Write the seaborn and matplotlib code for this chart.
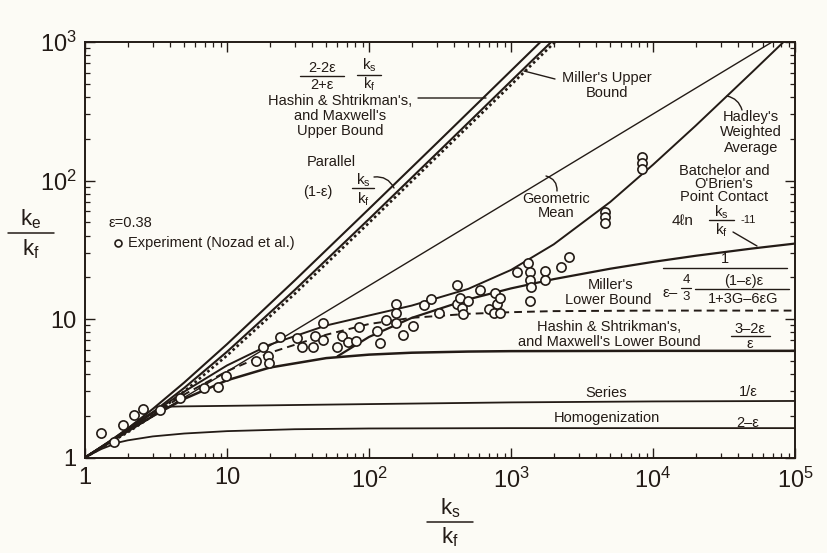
import numpy as np
import pandas as pd
import matplotlib
matplotlib.use("Agg")
import matplotlib.pyplot as plt
import seaborn as sns
from matplotlib.lines import Line2D
from matplotlib.patches import FancyArrowPatch
from matplotlib.ticker import FixedLocator, FixedFormatter, LogLocator, NullFormatter

# ---------------- data ----------------
parallel_x = [1, 1.5, 2, 3, 5, 10, 30, 100, 300, 1000, 1612]
parallel_y = [1, 1.31, 1.62, 2.24, 3.48, 6.58, 19.0, 62.4, 186, 620, 1000]

hs_upper_x = [1, 1.5, 2, 3, 5, 10, 30, 100, 300, 1000, 1920]
hs_upper_y = [1, 1.30, 1.58, 2.12, 3.18, 5.80, 16.2, 52.7, 157, 522, 1000]

miller_upper_x = [1, 1.5, 2, 3, 5, 10, 30, 100, 300, 1000, 2040]
miller_upper_y = [1, 1.28, 1.52, 2.00, 3.00, 5.45, 15.2, 49.5, 148, 490, 1000]

geometric_x = [1, 10, 100, 1000, 10000, 69000]
geometric_y = [1, 4.17, 17.4, 72.4, 302, 1000]

hadley_x = [1, 2, 5, 10, 20, 50, 100, 200, 500, 1000, 2000, 5000, 10000, 20000, 50000, 83000]
hadley_y = [1, 1.58, 2.99, 4.62, 6.53, 8.98, 10.6, 12.5, 16.5, 22.6, 34.6, 70, 130, 249, 607, 1000]

batchelor_x = [60, 100, 200, 500, 1000, 2000, 5000, 10000, 20000, 50000, 100000]
batchelor_y = [5.38, 7.42, 10.19, 13.86, 16.63, 19.4, 23.07, 25.84, 28.61, 32.28, 35.05]

miller_lower_x = [1, 2, 5, 10, 20, 50, 100, 200, 500, 1000, 2000, 10000, 100000]
miller_lower_y = [1, 1.55, 2.85, 4.2, 5.7, 7.7, 9.2, 10.2, 10.9, 11.2, 11.4, 11.5, 11.5]

hs_lower_x = [1, 1.5, 2, 3, 5, 10, 20, 50, 100, 200, 500, 1000, 10000, 100000]
hs_lower_y = [1, 1.29, 1.55, 1.99, 2.65, 3.61, 4.46, 5.22, 5.53, 5.71, 5.82, 5.86, 5.89, 5.89]

series_x = [1, 1.5, 2, 2.5, 3, 3.4, 4, 5, 10, 100, 1000, 10000, 100000]
series_y = [1, 1.32, 1.62, 1.9, 2.12, 2.3, 2.33, 2.34, 2.36, 2.43, 2.5, 2.54, 2.56]

homog_x = [1, 1.3, 1.7, 2, 3, 5, 10, 30, 100, 1000, 100000]
homog_y = [1, 1.15, 1.28, 1.33, 1.42, 1.49, 1.55, 1.60, 1.62, 1.63, 1.63]

exp_x = [1.29, 1.61, 1.85, 2.21, 2.56, 3.37, 4.64, 6.89, 8.64, 9.79,
         16.1, 17.9, 19.4, 19.9, 23.7, 31.0, 33.7, 40.3, 41.5, 47.4,
         47.4, 59.5, 64.2, 70.6, 81.4, 85.3, 114, 119, 132, 154,
         154, 154, 173, 203, 244, 275, 310, 415, 415, 438,
         452, 500, 461, 605, 703, 768, 793, 837, 765, 837,
         1096, 1324, 1361, 1361, 1384, 1361, 1744, 1744, 2250, 2560,
         4590, 4590, 4590, 8410, 8410, 8410]
exp_y = [1.50, 1.30, 1.73, 2.02, 2.23, 2.19, 2.68, 3.15, 3.21, 3.88,
         5.00, 6.31, 5.38, 4.81, 7.45, 7.26, 6.31, 6.31, 7.56, 9.36,
         7.05, 6.26, 7.50, 6.86, 6.96, 8.75, 8.22, 6.71, 9.84, 12.8,
         11.0, 9.31, 7.66, 8.86, 12.7, 14.0, 11.0, 17.6, 12.9, 14.1,
         12.0, 13.4, 10.8, 16.1, 11.8, 15.4, 12.8, 14.1, 11.0, 11.1,
         22.0, 25.2, 22.0, 19.1, 16.9, 13.6, 22.2, 19.1, 23.6, 27.9,
         59.5, 54.2, 49.6, 148.6, 134.5, 121.7]

x_ticks = [1, 10, 100, 1000, 10000, 100000]
x_tick_labels = ["1", "10", "10$^{2}$", "10$^{3}$", "10$^{4}$", "10$^{5}$"]
y_ticks = [1, 10, 100, 1000]
y_tick_labels = ["1", "10", "10$^{2}$", "10$^{3}$"]

# ---------------- style ----------------
INK = "#231b16"
BG = "#fcfbf5"
sns.set_theme(style="ticks")
plt.rcParams["font.family"] = ["Liberation Sans", "DejaVu Sans"]
plt.rcParams["mathtext.default"] = "regular"

W, H = 827, 553
fig = plt.figure(figsize=(W / 100, H / 100), dpi=100, facecolor=BG)
ax = fig.add_axes([85 / W, 1 - 457.5 / H, (795 - 85) / W, (457.5 - 42) / H])
ax.set_facecolor(BG)
ax.set_xscale("log")
ax.set_yscale("log")

curves = [
    (parallel_x, parallel_y, 1.5, None),
    (hs_upper_x, hs_upper_y, 1.5, None),
    (miller_upper_x, miller_upper_y, 1.9, [1.0, 1.1]),
    (geometric_x, geometric_y, 1.0, None),
    (hadley_x, hadley_y, 1.4, None),
    (batchelor_x, batchelor_y, 1.6, None),
    (miller_lower_x, miller_lower_y, 1.4, [4.0, 2.6]),
    (hs_lower_x, hs_lower_y, 1.8, None),
    (series_x, series_y, 1.3, None),
    (homog_x, homog_y, 1.3, None),
]
for cx, cy, lw, dash in curves:
    df = pd.DataFrame({"k": cx, "ke": cy})
    sns.lineplot(data=df, x="k", y="ke", ax=ax, sort=False, estimator=None,
                 color=INK, linewidth=lw, legend=False)
    if dash is not None:
        ax.lines[-1].set_dashes(dash)

sns.scatterplot(x=exp_x, y=exp_y, ax=ax, marker="o", s=44,
                facecolor=BG, edgecolor=INK, linewidth=1.2, zorder=5, legend=False)
ax.collections[-1].set_facecolor(BG)
ax.collections[-1].set_edgecolor(INK)

ax.set_xlim(1, 1e5)
ax.set_ylim(1, 1e3)
ax.xaxis.set_major_locator(FixedLocator(x_ticks))
ax.xaxis.set_major_formatter(FixedFormatter(x_tick_labels))
ax.yaxis.set_major_locator(FixedLocator(y_ticks))
ax.yaxis.set_major_formatter(FixedFormatter(y_tick_labels))
ax.xaxis.set_minor_locator(LogLocator(base=10, subs=np.arange(2, 10)))
ax.yaxis.set_minor_locator(LogLocator(base=10, subs=np.arange(2, 10)))
ax.xaxis.set_minor_formatter(NullFormatter())
ax.yaxis.set_minor_formatter(NullFormatter())
ax.tick_params(which="both", direction="in", top=True, right=True, colors=INK)
ax.tick_params(which="major", length=7, width=1.0, labelsize=17)
ax.tick_params(which="minor", length=3.5, width=0.9)
ax.tick_params(axis="x", which="major", pad=7)
ax.tick_params(axis="y", which="major", pad=6)
ax.set_xlabel("")
ax.set_ylabel("")
for sp in ax.spines.values():
    sp.set_visible(True)
    sp.set_linewidth(1.4)
    sp.set_color(INK)


# ---------------- annotation helpers (reference-pixel positions) ----------------
def fx(px):
    return px / W


def fy(py):
    return 1 - py / H


def put(px, py, s, size=10, ha="center", **kw):
    fig.text(fx(px), fy(py), s, ha=ha, va="center", fontsize=size, color=INK, **kw)


def bar(x0, x1, py, lw=1.0):
    fig.add_artist(Line2D([fx(x0), fx(x1)], [fy(py), fy(py)], color=INK, lw=lw))


def lead(p0, p1, rad=0.0):
    fig.add_artist(FancyArrowPatch(posA=(fx(p0[0]), fy(p0[1])), posB=(fx(p1[0]), fy(p1[1])),
                                   transform=fig.transFigure, arrowstyle="-",
                                   connectionstyle=f"arc3,rad={rad}", color=INK, lw=1.0,
                                   shrinkA=0, shrinkB=0))


# axis labels as fractions
put(450, 508, "k$_{s}$", size=16)
bar(427, 473, 522, lw=1.1)
put(450, 537, "k$_{f}$", size=16)

put(31, 219, "k$_{e}$", size=16)
bar(8, 54, 233, lw=1.1)
put(31, 249, "k$_{f}$", size=16)

# legend-like notes
put(108, 223, "ε=0.38", size=10.5, ha="left")
fig.add_artist(Line2D([fx(118)], [fy(243)], marker="o", markersize=5, markerfacecolor=BG,
                      markeredgecolor=INK, markeredgewidth=1.2, transform=fig.transFigure))
put(128, 243, "Experiment (Nozad et al.)", size=10.5, ha="left")

# HS upper bound
put(322, 68, "2-2ε", size=10.5)
bar(300, 344, 76)
put(322, 85, "2+ε", size=10.5)
put(369, 65, "k$_{s}$", size=11)
bar(357, 381, 75)
put(369, 84, "k$_{f}$", size=10.5)
put(340, 101, "Hashin & Shtrikman's,", size=10.5)
put(340, 116, "and Maxwell's", size=10.5)
put(340, 131, "Upper Bound", size=10.5)
lead((418, 98), (486, 98))

# Parallel
put(331, 162, "Parallel", size=10.5)
put(318, 192, "(1-ε)", size=10.5)
put(363, 180, "k$_{s}$", size=11)
bar(352, 374, 188)
put(363, 199, "k$_{f}$", size=11)
lead((374, 177), (394, 188), rad=-0.35)

# Miller upper
put(607, 78, "Miller's Upper", size=10.5)
put(607, 93, "Bound", size=10.5)
lead((524, 71), (555, 79))

# Geometric mean
put(556, 199, "Geometric", size=10.5)
put(556, 213, "Mean", size=10.5)
lead((546, 176), (557, 191), rad=-0.4)

# Hadley
put(751, 117, "Hadley's", size=10.5)
put(751, 132, "Weighted", size=10.5)
put(751, 148, "Average", size=10.5)
lead((727, 96), (742, 110), rad=-0.3)

# Batchelor & O'Brien
put(724, 171, "Batchelor and", size=10.5)
put(724, 184, "O'Brien's", size=10.5)
put(724, 197, "Point Contact", size=10.5)
put(683, 221, "4ℓn", size=11)
put(721, 212, "k$_{s}$", size=11)
bar(709, 734, 220)
put(721, 230, "k$_{f}$", size=11)
put(748, 220, "-11", size=8)
lead((733, 232), (757, 246))

# Miller lower
put(611, 285, "Miller's", size=10.5)
put(608, 300, "Lower Bound", size=10.5)
put(725, 259, "1", size=10.5)
bar(663, 787, 268)
put(670, 293, "ε–", size=11)
put(686, 280, "4", size=9.5)
bar(681, 691, 288, lw=0.9)
put(686, 297, "3", size=9.5)
put(744, 281, "(1–ε)ε", size=10.5)
bar(695, 789, 289)
put(743, 299, "1+3G–6εG", size=10.5)

# HS lower
put(609, 327, "Hashin & Shtrikman's,", size=10.5)
put(609, 342, "and Maxwell's Lower Bound", size=10.5)
put(750, 329, "3–2ε", size=10.5)
bar(731, 770, 336)
put(750, 344, "ε", size=10.5)

# Series and homogenization
put(606, 393, "Series", size=10.5)
put(748, 392, "1/ε", size=10.5)
put(607, 418, "Homogenization", size=10.5)
put(748, 423, "2–ε", size=10.5)

fig.savefig("out.png", dpi=100, facecolor=BG)
